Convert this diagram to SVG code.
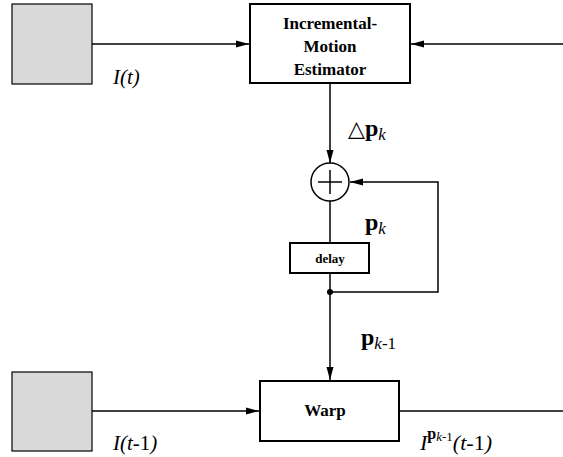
<svg xmlns="http://www.w3.org/2000/svg" width="563" height="457" viewBox="0 0 563 457">
<style>
.ln{stroke:#000;stroke-width:1.5;fill:none}
.box{fill:#fff;stroke:#000;stroke-width:2}
.src{fill:#d9d9d9;stroke:#000;stroke-width:1.2}
.bt{font-weight:bold;text-anchor:middle}
</style>
<defs>
<marker id="ar" markerWidth="14" markerHeight="10" refX="13" refY="5" orient="auto" markerUnits="userSpaceOnUse">
<path d="M0,1.5 L13,5 L0,8.5 Z" fill="#000"/>
</marker>
</defs>
<g id="connectors">
<line class="ln" x1="92" y1="44" x2="249" y2="44" marker-end="url(#ar)"/>
<line class="ln" x1="563" y1="44" x2="411" y2="44" marker-end="url(#ar)"/>
<line class="ln" x1="330" y1="83" x2="330" y2="163" marker-end="url(#ar)"/>
<line class="ln" x1="330" y1="200" x2="330" y2="243"/>
<line class="ln" x1="330" y1="273" x2="330" y2="380" marker-end="url(#ar)"/>
<polyline class="ln" points="330,292 438,292 438,182 350,182" marker-end="url(#ar)"/>
<circle cx="330" cy="292" r="3" fill="#000"/>
<line class="ln" x1="92" y1="411" x2="259" y2="411" marker-end="url(#ar)"/>
<line class="ln" x1="400" y1="411" x2="563" y2="411"/>
</g>
<g id="src-top"><rect class="src" x="12" y="4" width="80" height="80"/></g>
<g id="src-bottom"><rect class="src" x="12" y="372" width="80" height="79"/></g>
<g font-family="Liberation Serif, DejaVu Serif, serif" fill="#000">
<g id="estimator">
<rect class="box" x="250" y="4" width="160" height="79"/>
<text class="bt" x="330" y="29" font-size="17">Incremental-</text>
<text class="bt" x="330" y="52" font-size="17">Motion</text>
<text class="bt" x="330" y="75" font-size="17">Estimator</text>
</g>
<g id="sum">
<circle cx="330" cy="182" r="19" fill="#fff" stroke="#000" stroke-width="1.5"/>
<line class="ln" x1="318" y1="182" x2="342" y2="182"/>
<line class="ln" x1="330" y1="170" x2="330" y2="194"/>
</g>
<g id="delay">
<rect class="box" x="290" y="243" width="79" height="30"/>
<text class="bt" x="330" y="263" font-size="13">delay</text>
</g>
<g id="warp">
<rect class="box" x="260" y="381" width="139" height="60"/>
<text class="bt" x="325" y="416" font-size="17">Warp</text>
</g>
<g id="labels">
<text x="113" y="84" font-size="21" font-style="italic">I(t)</text>
<text x="113" y="450" font-size="21"><tspan font-style="italic">I(t</tspan>-1<tspan font-style="italic">)</tspan></text>
<text x="348" y="136" font-size="22">△<tspan font-weight="bold" font-size="24">p</tspan><tspan font-style="italic" font-size="17" dy="4">k</tspan></text>
<text x="365" y="230" font-size="24"><tspan font-weight="bold">p</tspan><tspan font-style="italic" font-size="17" dy="4">k</tspan></text>
<text x="361" y="345" font-size="24"><tspan font-weight="bold">p</tspan><tspan font-size="17" dy="4"><tspan font-style="italic">k</tspan>-1</tspan></text>
<text x="420" y="450" font-size="22"><tspan font-style="italic">I</tspan><tspan font-weight="bold" font-size="16" dy="-11">p</tspan><tspan font-size="13" dy="2"><tspan font-style="italic">k</tspan>-1</tspan><tspan dy="9" font-style="italic">(t</tspan>-1<tspan font-style="italic">)</tspan></text>
</g>
</g>
</svg>
